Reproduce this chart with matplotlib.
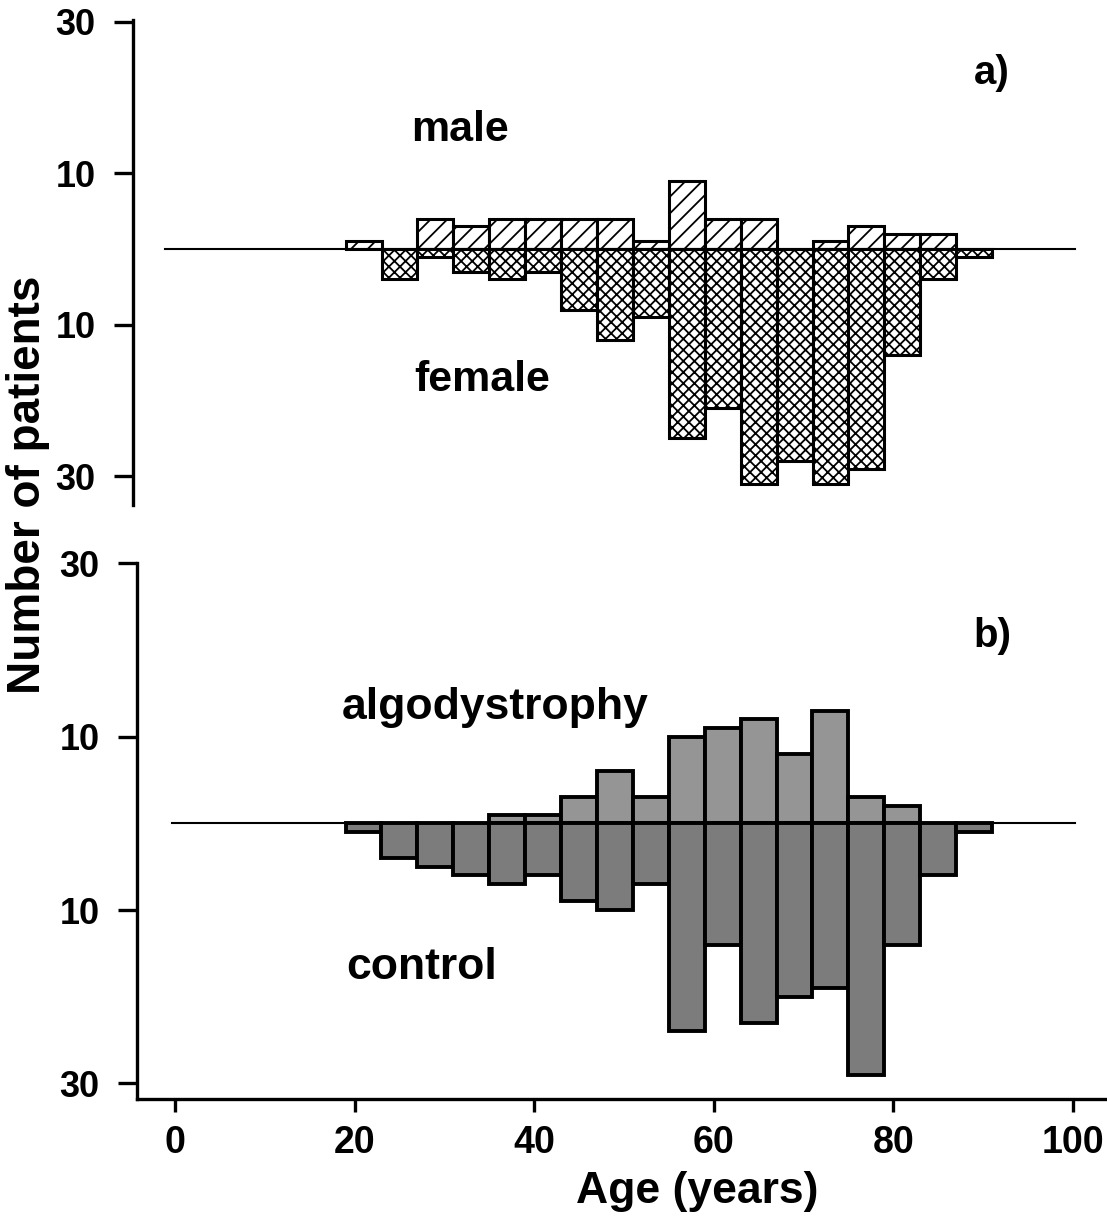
import numpy as np
import matplotlib.pyplot as plt

plt.rcParams['font.family'] = ['Liberation Sans', 'DejaVu Sans']
plt.rcParams['font.weight'] = 'bold'
plt.rcParams['hatch.linewidth'] = 1.3

# age bins (4-year classes), left edges
age_start = [19, 23, 27, 31, 35, 39, 43, 47, 51, 55, 59, 63, 67, 71, 75, 79, 83, 87]

# a) algodystrophy patients by sex
male = [1, 0, 4, 3, 4, 4, 4, 4, 1, 9, 4, 4, 0, 1, 3, 2, 2, 0]
female = [0, 4, 1, 3, 4, 3, 8, 12, 9, 25, 21, 31, 28, 31, 29, 14, 4, 1]

# b) algodystrophy vs control
algo = [0, 0, 0, 0, 1, 1, 3, 6, 3, 10, 11, 12, 8, 13, 3, 2, 0, 0]
control = [1, 4, 5, 6, 7, 6, 9, 10, 7, 24, 14, 23, 20, 19, 29, 14, 6, 1]

y_ticks = [30, 10, -10, -30]
y_ticklabels = ['30', '10', '10', '30']
x_ticks = [0, 20, 40, 60, 80, 100]

W, H = 1107, 1225
fig = plt.figure(figsize=(W / 100, H / 100), dpi=100)

ax1 = fig.add_axes([133 / W, 1 - 505 / H, (W - 133) / W, (505 - 20) / H])
ax2 = fig.add_axes([137 / W, 1 - 1099 / H, (W - 137) / W, (1099 - 563) / H])


def edges_for(vals):
    return ['black' if v else 'none' for v in vals]


# --- panel a ---
ax1.bar(age_start, male, width=4, align='edge', facecolor='white',
        edgecolor=edges_for(male), hatch='//', linewidth=2.2)
ax1.bar(age_start, [-v for v in female], width=4, align='edge', facecolor='white',
        edgecolor=edges_for(female), hatch='xxx', linewidth=2.2)
ax1.plot([-1.1, 100.2], [0, 0], color='black', lw=1.5, zorder=3)

ax1.set_xlim(-4.68, 103.8)
ax1.set_ylim(-33.8, 30.25)
ax1.text(31.7, 15.7, 'male', fontsize=31, ha='center', va='center')
ax1.text(34.2, -17.3, 'female', fontsize=31, ha='center', va='center')
ax1.text(91, 23.2, 'a)', fontsize=29, ha='center', va='center')

# --- panel b ---
ax2.bar(age_start, algo, width=4, align='edge', facecolor='#959595',
        edgecolor=edges_for(algo), linewidth=2.8)
ax2.bar(age_start, [-v for v in control], width=4, align='edge', facecolor='#7c7c7c',
        edgecolor=edges_for(control), linewidth=2.8)
ax2.plot([-0.3, 100.2], [0, 0], color='black', lw=1.5, zorder=3)

ax2.set_xlim(-4.23, 103.8)
ax2.set_ylim(-31.8, 30.05)
ax2.text(35.7, 13.4, 'algodystrophy', fontsize=32, ha='center', va='center')
ax2.text(27.5, -16.6, 'control', fontsize=32, ha='center', va='center')
ax2.text(91, 21.6, 'b)', fontsize=29, ha='center', va='center')

for ax in (ax1, ax2):
    for s in ('top', 'right'):
        ax.spines[s].set_visible(False)
    ax.spines['left'].set_linewidth(2.4)
    ax.set_yticks(y_ticks)
    ax.set_yticklabels(y_ticklabels)
    ax.tick_params(axis='y', direction='out', length=14, width=2.4, pad=13,
                   labelsize=26)
    ax.set_facecolor('none')

ax1.spines['bottom'].set_visible(False)
ax1.tick_params(axis='x', bottom=False, labelbottom=False)

ax2.spines['bottom'].set_linewidth(2.4)
ax2.set_xticks(x_ticks)
ax2.tick_params(axis='x', direction='out', length=9, width=2.4, pad=10,
                labelsize=27)

fig.text(28 / W, 1 - 485 / H, 'Number of patients', rotation=90,
         ha='center', va='center', fontsize=33)
fig.text(697 / W, 1 - 1192 / H, 'Age (years)', ha='center', va='center',
         fontsize=32)

fig.savefig('out.png', dpi=100)
